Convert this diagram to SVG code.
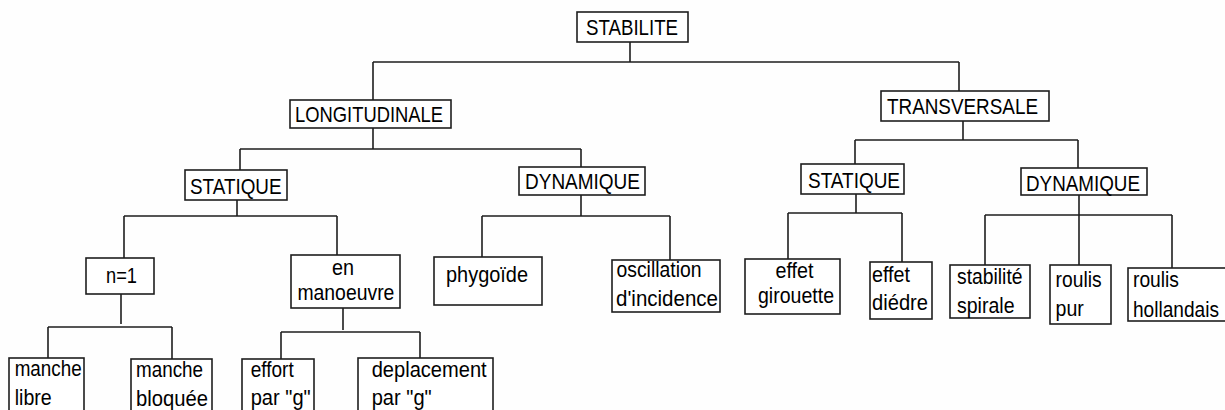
<svg xmlns="http://www.w3.org/2000/svg" width="1225" height="410" viewBox="0 0 1225 410">
<style>
.bg{fill:#fefefe}
.box{fill:#ffffff;stroke:#1e1e1e;stroke-width:1.6}
.ln{fill:none;stroke:#1e1e1e;stroke-width:1.6}
text{font-family:"Liberation Sans",Arial,sans-serif;fill:#000}
.cap{font-size:22.5px}
.low{font-size:21.5px}
.mid{text-anchor:middle}
</style>
<rect class="bg" x="0" y="0" width="1225" height="410"/>
<g id="connectors">
<path class="ln" d="M630,41 V62 M373,62 H959 M373,62 V100 M959,62 V91"/>
<path class="ln" d="M373,128 V149 M240,149 H581 M240,149 V170 M581,149 V167"/>
<path class="ln" d="M963,121 V140 M855,140 H1078 M855,140 V164 M1078,140 V168"/>
<path class="ln" d="M237,200 V216 M124,216 H337 M124,216 V258 M337,216 V255"/>
<path class="ln" d="M581,195 V216 M482,216 H670 M482,216 V257 M670,216 V260"/>
<path class="ln" d="M856,194 V213 M788,213 H902 M788,213 V259 M902,213 V262"/>
<path class="ln" d="M1079,195 V265 M985,215 H1172 M985,215 V265 M1172,215 V268"/>
<path class="ln" d="M121,294 V324 M48,327 H172 M48,327 V358 M172,327 V359"/>
<path class="ln" d="M343,308 V330 M281,332 H420 M281,332 V359 M420,332 V358"/>
</g>
<g id="stabilite"><rect class="box" x="577" y="12" width="111" height="30"/><text class="cap" x="586" y="35" textLength="92" lengthAdjust="spacingAndGlyphs">STABILITE</text></g>
<g id="longitudinale"><rect class="box" x="290" y="100" width="161" height="28"/><text class="cap" x="295" y="122.3" textLength="148" lengthAdjust="spacingAndGlyphs">LONGITUDINALE</text></g>
<g id="transversale"><rect class="box" x="881" y="91" width="168" height="30"/><text class="cap" x="887" y="114" textLength="151" lengthAdjust="spacingAndGlyphs">TRANSVERSALE</text></g>
<g id="statique-l"><rect class="box" x="185" y="170" width="102" height="30"/><text class="cap" x="190" y="194" textLength="91.5" lengthAdjust="spacingAndGlyphs">STATIQUE</text></g>
<g id="dynamique-l"><rect class="box" x="519" y="167" width="126" height="28"/><text class="cap" x="525" y="189" textLength="115" lengthAdjust="spacingAndGlyphs">DYNAMIQUE</text></g>
<g id="statique-r"><rect class="box" x="801" y="164" width="103" height="30"/><text class="cap" x="808" y="187.5" textLength="92" lengthAdjust="spacingAndGlyphs">STATIQUE</text></g>
<g id="dynamique-r"><rect class="box" x="1021" y="168" width="126" height="27"/><text class="cap" x="1026" y="190.5" textLength="114" lengthAdjust="spacingAndGlyphs">DYNAMIQUE</text></g>
<g id="n1"><rect class="box" x="86" y="258" width="68" height="36"/><text class="low" x="106" y="282.7" textLength="31" lengthAdjust="spacingAndGlyphs">n=1</text></g>
<g id="en-manoeuvre"><rect class="box" x="291" y="255" width="109" height="53"/><text class="low mid" x="343" y="275" textLength="22" lengthAdjust="spacingAndGlyphs">en</text><text class="low" x="297.4" y="300" textLength="97" lengthAdjust="spacingAndGlyphs">manoeuvre</text></g>
<g id="phygoide"><rect class="box" x="434" y="257" width="108" height="48"/><text class="low" x="446" y="281.7" textLength="82" lengthAdjust="spacingAndGlyphs">phygoïde</text></g>
<g id="oscillation"><rect class="box" x="612" y="260" width="108" height="52"/><text class="low" x="616.5" y="277" textLength="85" lengthAdjust="spacingAndGlyphs">oscillation</text><text class="low" x="616" y="306" textLength="102" lengthAdjust="spacingAndGlyphs">d'incidence</text></g>
<g id="effet-girouette"><rect class="box" x="745" y="259" width="95" height="55"/><text class="low mid" x="794.5" y="278.3" textLength="38" lengthAdjust="spacingAndGlyphs">effet</text><text class="low" x="758" y="302.7" textLength="76" lengthAdjust="spacingAndGlyphs">girouette</text></g>
<g id="effet-diedre"><rect class="box" x="870" y="262" width="62" height="57"/><text class="low" x="872" y="281.7" textLength="38" lengthAdjust="spacingAndGlyphs">effet</text><text class="low" x="872" y="310" textLength="56" lengthAdjust="spacingAndGlyphs">diédre</text></g>
<g id="stabilite-spirale"><rect class="box" x="950" y="265" width="80" height="53"/><text class="low" x="957" y="284" textLength="65.5" lengthAdjust="spacingAndGlyphs">stabilité</text><text class="low" x="957" y="313.3" textLength="57.5" lengthAdjust="spacingAndGlyphs">spirale</text></g>
<g id="roulis-pur"><rect class="box" x="1050" y="265" width="61" height="59"/><text class="low" x="1055.6" y="287.3" textLength="46" lengthAdjust="spacingAndGlyphs">roulis</text><text class="low" x="1055.6" y="315.5" textLength="28.3" lengthAdjust="spacingAndGlyphs">pur</text></g>
<g id="roulis-hollandais"><rect class="box" x="1128" y="268" width="105" height="53"/><text class="low" x="1133" y="287.3" textLength="46" lengthAdjust="spacingAndGlyphs">roulis</text><text class="low" x="1133" y="316.7" textLength="86" lengthAdjust="spacingAndGlyphs">hollandais</text></g>
<g id="manche-libre"><rect class="box" x="9" y="358" width="75" height="62"/><text class="low" x="14.7" y="375.5" textLength="67" lengthAdjust="spacingAndGlyphs">manche</text><text class="low" x="14.7" y="405" textLength="37" lengthAdjust="spacingAndGlyphs">libre</text></g>
<g id="manche-bloquee"><rect class="box" x="131" y="359" width="81" height="62"/><text class="low" x="136" y="376.7" textLength="67" lengthAdjust="spacingAndGlyphs">manche</text><text class="low" x="136" y="406" textLength="72" lengthAdjust="spacingAndGlyphs">bloquée</text></g>
<g id="effort"><rect class="box" x="242" y="359" width="72" height="62"/><text class="low" x="250.7" y="377.3" textLength="43" lengthAdjust="spacingAndGlyphs">effort</text><text class="low" x="250.7" y="405" textLength="60" lengthAdjust="spacingAndGlyphs">par "g"</text></g>
<g id="deplacement"><rect class="box" x="358" y="358" width="135" height="62"/><text class="low" x="371.7" y="377" textLength="115" lengthAdjust="spacingAndGlyphs">deplacement</text><text class="low" x="371.7" y="405" textLength="60" lengthAdjust="spacingAndGlyphs">par "g"</text></g>
</svg>
